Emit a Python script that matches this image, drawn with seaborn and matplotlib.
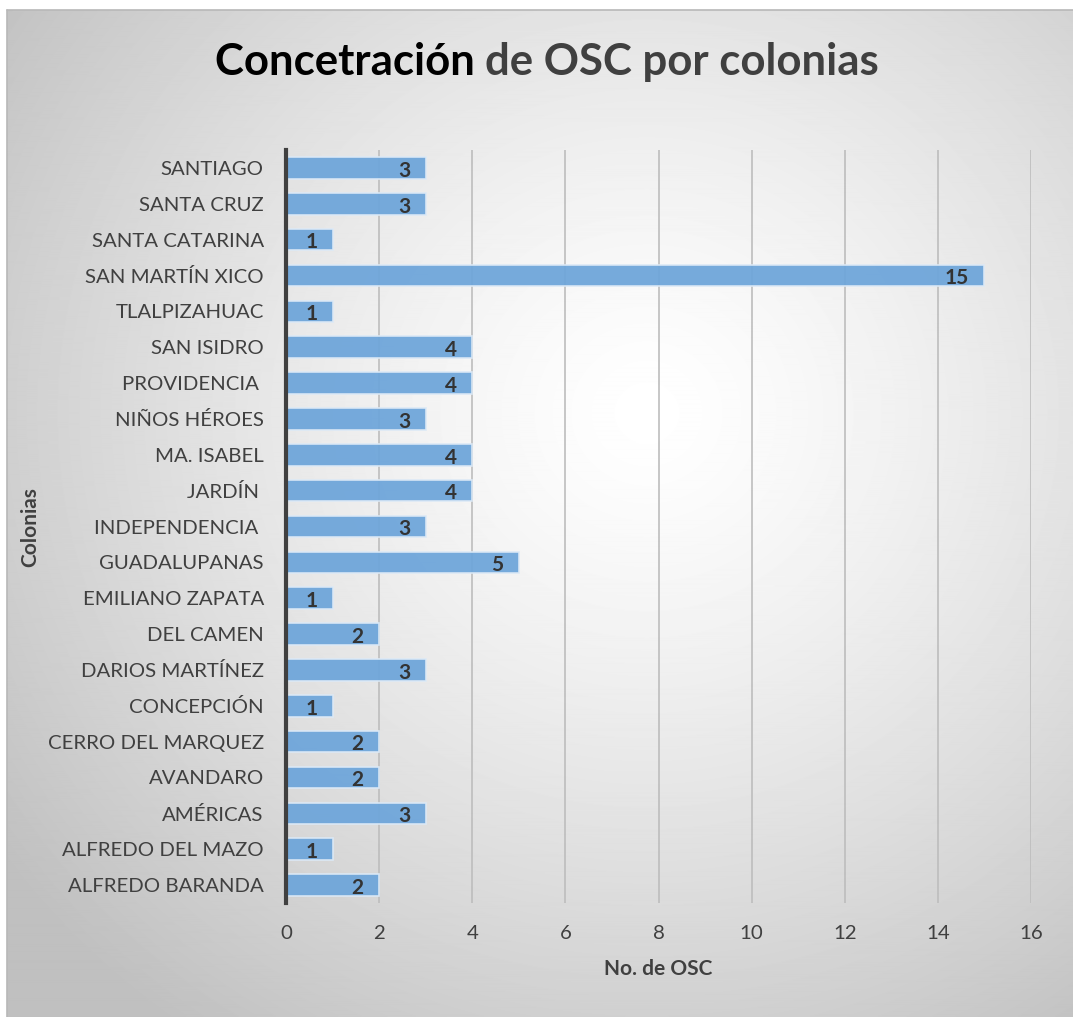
import numpy as np
import pandas as pd
import matplotlib.pyplot as plt
import seaborn as sns

colonias = [
    "SANTIAGO", "SANTA CRUZ", "SANTA CATARINA", "SAN MARTÍN XICO",
    "TLALPIZAHUAC", "SAN ISIDRO", "PROVIDENCIA ", "NIÑOS HÉROES",
    "MA. ISABEL", "JARDÍN ", "INDEPENDENCIA ", "GUADALUPANAS",
    "EMILIANO ZAPATA", "DEL CAMEN", "DARIOS MARTÍNEZ", "CONCEPCIÓN",
    "CERRO DEL MARQUEZ", "AVANDARO", "AMÉRICAS", "ALFREDO DEL MAZO",
    "ALFREDO BARANDA",
]
num_osc = [3, 3, 1, 15, 1, 4, 4, 3, 4, 4, 3, 5, 1, 2, 3, 1, 2, 2, 3, 1, 2]
x_ticks = [0, 2, 4, 6, 8, 10, 12, 14, 16]

df = pd.DataFrame({"colonia": colonias, "osc": num_osc})

sns.set_theme(style="white")
plt.rcParams["font.family"] = ["Lato", "DejaVu Sans"]

W, H = 1073, 1017
fig = plt.figure(figsize=(W / 100, H / 100), dpi=100)
fig.patch.set_facecolor("white")

# radial gradient background inside the chart box
bg = fig.add_axes([7 / W, 0, 1 - 7 / W, 1 - 10 / H], zorder=-10)
yy, xx = np.mgrid[0:1000, 0:1066]
cx, cy = 640, 400
d = np.sqrt(((xx - cx) / 800.0) ** 2 + ((yy - cy) / 760.0) ** 2)
d = np.clip(d, 0, 1)
shade = 1.0 - 0.25 * d ** 1.3
bg.imshow(shade, cmap="gray", vmin=0, vmax=1, aspect="auto", interpolation="bilinear")
bg.set_axis_off()
fig.add_artist(plt.Line2D([7 / W, 7 / W], [0, 1 - 10 / H], color="#b8b8b8", lw=1.2))
fig.add_artist(plt.Line2D([7 / W, 1], [1 - 10 / H, 1 - 10 / H], color="#b8b8b8", lw=1.2))

ax = fig.add_axes([286 / W, 1 - 903 / H, (1031 - 286) / W, (903 - 150) / H])
ax.set_facecolor("none")

sns.barplot(data=df, x="osc", y="colonia", orient="h", color="#6fa6da",
            saturation=1, width=0.6, edgecolor="#dce9f6", linewidth=1.2,
            alpha=0.95, ax=ax, zorder=3)

for i, v in enumerate(df["osc"]):
    ax.annotate(str(v), (v, i), xytext=(-11, -2), textcoords="offset points",
                ha="right", va="center", fontsize=15, fontweight="bold",
                color="#333333", zorder=5)

ax.set_xlim(0, 16)
ax.set_ylim(len(colonias) - 0.5, -0.5)
ax.set_xticks(x_ticks)
ax.xaxis.grid(True, color="#bdbdbd", lw=1.2, zorder=0)
ax.yaxis.grid(False)
for s in ["top", "right", "bottom"]:
    ax.spines[s].set_visible(False)
ax.spines["left"].set_color("#404040")
ax.spines["left"].set_linewidth(3)
ax.spines["left"].set_zorder(6)
ax.tick_params(axis="y", length=0, pad=16, labelsize=14.7, labelcolor="#404040")
ax.tick_params(axis="x", length=0, pad=16, labelsize=14.7, labelcolor="#404040")

ax.set_xlabel("No. de OSC", fontsize=15, fontweight="bold", color="#404040", labelpad=12)
ax.set_ylabel("")
fig.text(30 / W, 1 - 527 / H, "Colonias", rotation=90, ha="center", va="center",
         fontsize=15, fontweight="bold", color="#404040")

t1 = fig.text(0.5, 1 - 62 / H, "Concetración ", ha="right", va="center",
              fontsize=31.5, fontweight="bold", color="black")
t2 = fig.text(0.5, 1 - 62 / H, "de OSC por colonias", ha="left", va="center",
              fontsize=31.5, fontweight="bold", color="#404040")
fig.canvas.draw()
r = fig.canvas.get_renderer()
w1 = t1.get_window_extent(r).width / W
w2 = t2.get_window_extent(r).width / W
start = 547 / W - (w1 + w2) / 2
t1.set_position((start + w1, 1 - 62 / H))
t2.set_position((start + w1, 1 - 62 / H))

fig.savefig("out.png", dpi=100)
